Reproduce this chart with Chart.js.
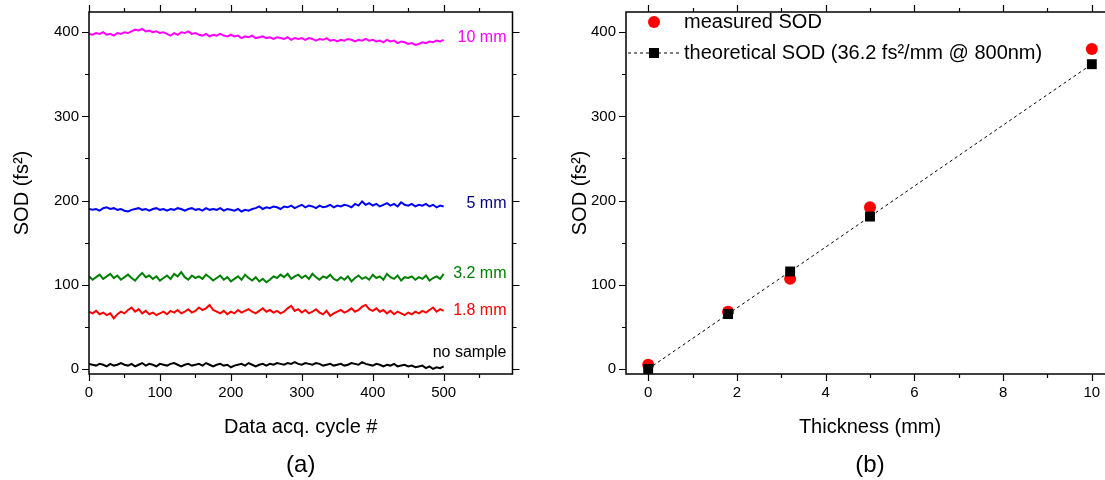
<!DOCTYPE html>
<html>
<head>
<meta charset="utf-8">
<script src="https://cdn.jsdelivr.net/npm/chart.js@4.4.0/dist/chart.umd.min.js"></script>
<style>
  html, body { margin: 0; padding: 0; background: #fff; }
  body { width: 1105px; height: 480px; overflow: hidden; position: relative; }
  #wrapA { position: absolute; left: 0; top: 0; width: 552px; height: 480px; }
  #wrapB { position: absolute; left: 552px; top: 0; width: 573px; height: 480px; }
</style>
</head>
<body>
<div id="wrapA"><canvas id="chartA" width="552" height="480"></canvas></div>
<div id="wrapB"><canvas id="chartB" width="573" height="480"></canvas></div>
<script>
// ============================================================
// SOD vs. cycle (a) and SOD vs. thickness (b)
// ============================================================

const FONT = '"Liberation Sans", Arial, Helvetica, sans-serif';

// ------ panel (a): SOD read every 5th acquisition cycle ------
const CYCLE_STEP = 5;
const sod10mm = [
  398, 397, 399, 398, 400, 397, 398, 396, 399, 398, 400,
  399, 401, 403, 402, 404, 401, 402, 400, 401, 399,
  400, 398, 396, 399, 397, 400, 399, 401, 398, 399,
  397, 396, 398, 395, 397, 396, 398, 396, 395, 397,
  395, 396, 393, 395, 394, 396, 393, 394, 395, 393,
  394, 392, 394, 393, 392, 394, 391, 393, 392, 393,
  391, 393, 392, 390, 392, 391, 393, 390, 391, 389,
  391, 390, 392, 391, 389, 391, 390, 392, 390, 391,
  389, 390, 388, 391, 389, 390, 387, 389, 388, 386,
  387, 385, 386, 388, 387, 389, 388, 390, 389, 391
];
const sod5mm = [
  190, 189, 190, 188, 191, 192, 190, 191, 189, 190, 188,
  187, 189, 190, 191, 189, 190, 188, 190, 191, 189,
  190, 188, 190, 189, 191, 190, 188, 190, 191, 189,
  190, 188, 191, 189, 190, 189, 191, 188, 190, 189,
  188, 190, 187, 189, 188, 190, 191, 193, 190, 192,
  191, 193, 192, 190, 193, 192, 194, 191, 193, 195,
  192, 194, 193, 191, 194, 192, 193, 195, 192, 194,
  193, 195, 194, 192, 196, 194, 199, 195, 197, 194,
  196, 193, 195, 197, 194, 196, 193, 198, 195, 194,
  196, 193, 195, 194, 196, 193, 195, 192, 194, 193
];
const sod32mm = [
  110, 106, 109, 112, 107, 110, 113, 108, 111, 106, 109,
  112, 108, 105, 110, 114, 109, 111, 107, 110, 105,
  108, 111, 107, 113, 110, 115, 109, 106, 111, 108,
  110, 107, 112, 109, 105, 108, 111, 106, 109, 104,
  107, 110, 106, 112, 108, 105, 109, 104, 107, 103,
  106, 110, 108, 112, 109, 113, 107, 110, 112, 108,
  111, 107, 113, 109, 106, 110, 108, 112, 107, 105,
  109, 106, 110, 104, 108, 111, 107, 109, 106, 112,
  108, 110, 106, 113, 109, 107, 111, 105, 109, 108,
  110, 106, 109, 107, 111, 105, 108, 110, 107, 113
];
const sod18mm = [
  68, 66, 69, 65, 67, 64, 66, 60, 65, 68, 66,
  70, 73, 68, 71, 66, 69, 65, 67, 64, 66,
  68, 65, 69, 67, 70, 66, 68, 71, 67, 69,
  73, 70, 72, 76, 70, 68, 66, 69, 65, 68,
  66, 70, 67, 69, 71, 68, 66, 69, 72, 68,
  70, 67, 69, 66, 68, 72, 75, 69, 71, 67,
  70, 66, 68, 71, 67, 65, 69, 63, 66, 68,
  70, 67, 69, 72, 68, 70, 74, 76, 71, 69,
  72, 68, 70, 66, 69, 65, 68, 66, 64, 67,
  65, 68, 66, 69, 67, 70, 73, 68, 71, 69
];
const sodNoSample = [
  6, 5, 4, 6, 5, 3, 6, 4, 5, 7, 5,
  4, 6, 3, 5, 7, 4, 6, 5, 3, 6,
  5, 4, 6, 7, 5, 3, 5, 6, 4, 5,
  6, 4, 7, 5, 3, 5, 6, 4, 5, 2,
  4, 5, 6, 4, 7, 5, 3, 5, 6, 4,
  6, 5, 7, 6, 5, 7, 6, 8, 6, 5,
  7, 6, 5, 7, 6, 4, 5, 6, 4, 5,
  6, 4, 5, 7, 6, 5, 8, 6, 5, 4,
  6, 5, 3, 5, 4, 6, 3, 4, 5, 3,
  4, 2, 3, 4, 1, 3, 0, 2, 1, 3
];
const cycles = sod10mm.map((_, i) => i * CYCLE_STEP);

const seriesA      = [sod10mm, sod5mm, sod32mm, sod18mm, sodNoSample];
const seriesNames  = ['10 mm', '5 mm', '3.2 mm', '1.8 mm', 'no sample'];
const seriesColors = ['#ff00ff', '#0000ff', '#008000', '#ff0000', '#000000'];
const tagColors    = ['#ff00ff', '#000080', '#008000', '#ff0000', '#000000'];
const tagLevels    = [394, 197, 113, 69, 19];   // SOD value where each name sits

const cycleTicks = [0, 50, 100, 150, 200, 250, 300, 350, 400, 450, 500, 550];
const sodTicks   = [0, 50, 100, 150, 200, 250, 300, 350, 400];

// ------ panel (b): SOD vs. glass thickness ------
const thickness      = [0, 1.8, 3.2, 5, 10];
const measuredSOD    = [5, 68, 107, 192, 380];
const theoreticalSOD = [0, 65.2, 115.8, 181, 362];
const thicknessTicks = [0, 1, 2, 3, 4, 5, 6, 7, 8, 9, 10];

// ------ frame + Origin-style ticks on all four sides ------
const frameTicks = {
  id: 'frameTicks',
  afterDraw(chart, args, opts) {
    const { ctx, chartArea: a, scales: { x, y } } = chart;
    ctx.save();
    ctx.strokeStyle = '#000';
    ctx.lineWidth = 1.5;
    ctx.strokeRect(a.left, a.top, a.right - a.left, a.bottom - a.top);
    ctx.lineWidth = 1.2;
    ctx.beginPath();
    x.ticks.forEach(t => {
      const px = Math.round(x.getPixelForValue(t.value)) + 0.5;
      const len = t.value % opts.majorX === 0 ? 7 : 4;
      ctx.moveTo(px, a.bottom); ctx.lineTo(px, a.bottom + len);
      ctx.moveTo(px, a.top);    ctx.lineTo(px, a.top - len);
    });
    y.ticks.forEach(t => {
      const py = Math.round(y.getPixelForValue(t.value)) + 0.5;
      const len = t.value % opts.majorY === 0 ? 7 : 4;
      ctx.moveTo(a.left, py);  ctx.lineTo(a.left - len, py);
      ctx.moveTo(a.right, py); ctx.lineTo(a.right + len, py);
    });
    ctx.stroke();
    ctx.restore();
  }
};

// ------ panel caption "(a)" / "(b)" ------
const panelCaption = {
  id: 'panelCaption',
  afterDraw(chart, args, opts) {
    const { ctx, chartArea: a } = chart;
    ctx.save();
    ctx.fillStyle = '#000';
    ctx.font = '24px ' + FONT;
    ctx.textAlign = 'center';
    ctx.textBaseline = 'middle';
    ctx.fillText(opts.text, (a.left + a.right) / 2, 465);
    ctx.restore();
  }
};

// ------ names at the right end of each trace ------
const seriesTags = {
  id: 'seriesTags',
  afterDatasetsDraw(chart) {
    const { ctx, chartArea: a, scales: { y } } = chart;
    ctx.save();
    ctx.font = '16px ' + FONT;
    ctx.textAlign = 'right';
    ctx.textBaseline = 'middle';
    seriesNames.forEach((n, i) => {
      ctx.fillStyle = tagColors[i];
      ctx.fillText(n, a.right - 6, y.getPixelForValue(tagLevels[i]));
    });
    ctx.restore();
  }
};

// ------ legend inside panel (b) ------
const legendB = {
  id: 'legendB',
  afterDraw(chart) {
    const { ctx, chartArea: a } = chart;
    const x0 = a.left;
    const r1 = a.top + 10, r2 = a.top + 41;
    ctx.save();
    ctx.fillStyle = '#ff0000';
    ctx.beginPath();
    ctx.arc(x0 + 28, r1, 6, 0, Math.PI * 2);
    ctx.fill();

    ctx.strokeStyle = '#000';
    ctx.lineWidth = 1;
    ctx.setLineDash([3, 3]);
    ctx.beginPath();
    ctx.moveTo(x0 + 2, r2); ctx.lineTo(x0 + 56, r2);
    ctx.stroke();
    ctx.setLineDash([]);
    ctx.fillStyle = '#000';
    ctx.fillRect(x0 + 23, r2 - 5, 10, 10);

    ctx.font = '20px ' + FONT;
    ctx.textAlign = 'left';
    ctx.textBaseline = 'middle';
    ctx.fillText('measured SOD', x0 + 58, r1);
    ctx.fillText('theoretical SOD (36.2 fs\u00b2/mm @ 800nm)', x0 + 58, r2);
    ctx.restore();
  }
};

function axisCommon(ticks, majorStep, extra) {
  return Object.assign({
    type: 'linear',
    grid: { display: false, tickLength: 7 },
    border: { display: false },
    afterBuildTicks: s => { s.ticks = ticks.map(v => ({ value: v })); },
    ticks: {
      color: '#000',
      font: { size: 15, family: FONT },
      autoSkip: false,
      maxRotation: 0,
      callback: v => (v % majorStep === 0 ? v : '')
    }
  }, extra);
}

// ------ panel (a) ------
function initPanelA() {
  const ctx = document.getElementById('chartA');
  new Chart(ctx, {
    type: 'line',
    data: {
      datasets: seriesA.map((s, i) => ({
        label: seriesNames[i],
        data: s.map((v, k) => ({ x: cycles[k], y: v })),
        borderColor: seriesColors[i],
        borderWidth: 2,
        pointRadius: 0,
        tension: 0,
        fill: false
      }))
    },
    options: {
      responsive: false,
      animation: false,
      events: [],
      layout: { padding: { top: 9, right: 39.5, bottom: 0, left: 0 } },
      plugins: {
        legend: { display: false },
        tooltip: { enabled: false },
        frameTicks: { majorX: 100, majorY: 100 },
        panelCaption: { text: '(a)' }
      },
      scales: {
        x: axisCommon(cycleTicks, 100, {
          min: 0, max: 597,
          afterFit: s => { s.height = 106; },
          title: { display: true, text: 'Data acq. cycle #', color: '#000',
                   font: { size: 20, family: FONT }, padding: { top: 0, bottom: 41 } }
        }),
        y: axisCommon(sodTicks, 100, {
          min: -6, max: 424,
          afterFit: s => { s.width = 89; },
          title: { display: true, text: 'SOD (fs\u00b2)', color: '#000',
                   font: { size: 20, family: FONT }, padding: { top: 10, bottom: 0 } }
        })
      }
    },
    plugins: [frameTicks, seriesTags, panelCaption]
  });
}

// ------ panel (b) ------
function initPanelB() {
  const ctx = document.getElementById('chartB');
  new Chart(ctx, {
    type: 'line',
    data: {
      datasets: [
        {
          label: 'measured SOD',
          data: thickness.map((t, i) => ({ x: t, y: measuredSOD[i] })),
          showLine: false,
          pointStyle: 'circle',
          pointRadius: 6,
          pointBackgroundColor: '#ff0000',
          pointBorderWidth: 0,
          borderColor: '#ff0000',
          clip: false,
          order: 1
        },
        {
          label: 'theoretical SOD (36.2 fs\u00b2/mm @ 800nm)',
          data: thickness.map((t, i) => ({ x: t, y: theoreticalSOD[i] })),
          borderColor: '#000',
          borderWidth: 1,
          borderDash: [3, 3],
          tension: 0,
          pointStyle: 'rect',
          pointRadius: 7,
          pointBackgroundColor: '#000',
          pointBorderWidth: 0,
          clip: false,
          order: 0
        }
      ]
    },
    options: {
      responsive: false,
      animation: false,
      events: [],
      layout: { padding: { top: 9, right: 11, bottom: 0, left: 0 } },
      plugins: {
        legend: { display: false },
        tooltip: { enabled: false },
        frameTicks: { majorX: 2, majorY: 100 },
        panelCaption: { text: '(b)' }
      },
      scales: {
        x: axisCommon(thicknessTicks, 2, {
          min: -0.5, max: 10.5,
          afterFit: s => { s.height = 106; },
          title: { display: true, text: 'Thickness (mm)', color: '#000',
                   font: { size: 20, family: FONT }, padding: { top: 0, bottom: 41 } }
        }),
        y: axisCommon(sodTicks, 100, {
          min: -6, max: 424,
          afterFit: s => { s.width = 74; },
          title: { display: true, text: 'SOD (fs\u00b2)', color: '#000',
                   font: { size: 20, family: FONT }, padding: { top: 16, bottom: 0 } }
        })
      }
    },
    plugins: [frameTicks, legendB, panelCaption]
  });
}

initPanelA();
initPanelB();
</script>
</body>
</html>
